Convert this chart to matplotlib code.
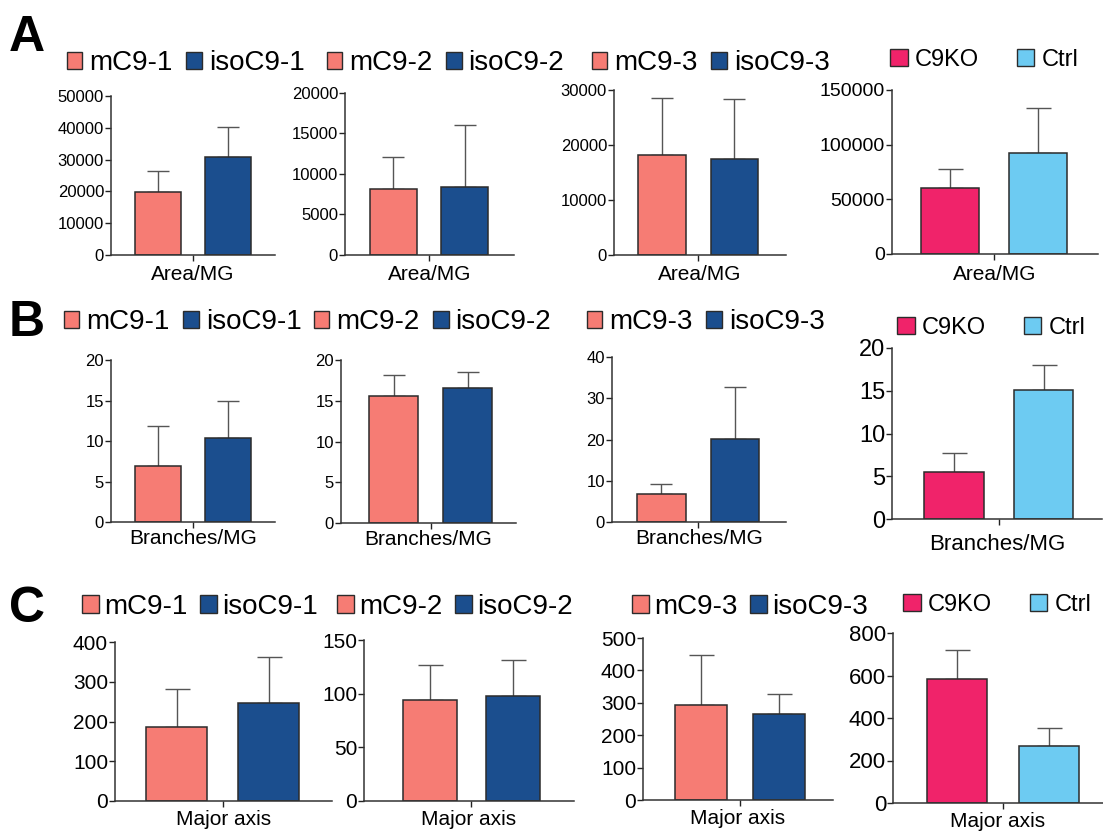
import matplotlib
matplotlib.use('Agg')
import matplotlib.pyplot as plt
from matplotlib.patches import Patch

plt.rcParams['font.family'] = ['Liberation Sans', 'DejaVu Sans']

# --- data (mean, sem) ---
pair_labels = [['mC9-1', 'isoC9-1'], ['mC9-2', 'isoC9-2'],
               ['mC9-3', 'isoC9-3'], ['C9KO', 'Ctrl']]

area_mean = [[19700, 30900], [8200, 8400], [18200, 17400], [60100, 92700]]
area_sem = [[6700, 9400], [3900, 7600], [10400, 10900], [17300, 41100]]

branch_mean = [[6.9, 10.4], [15.6, 16.6], [6.9, 20.1], [5.5, 15.1]]
branch_sem = [[4.9, 4.6], [2.5, 1.9], [2.4, 12.6], [2.2, 2.95]]

major_mean = [[186, 247], [94, 98], [294, 266], [583, 267]]
major_sem = [[96, 115], [33, 33], [154, 60], [139, 86]]

xlabels = ['Area/MG', 'Branches/MG', 'Major axis']
ymax = [[50000, 20000, 30000, 150000], [20, 20, 40, 20], [400, 150, 500, 800]]
ystep = [[10000, 5000, 10000, 50000], [5, 5, 10, 5], [100, 50, 100, 200]]

# --- layout (pixels in the 1103x831 picture) ---
W, H = 1103, 831
# x0, x1, ytop, ybot
boxes = [
    [(111, 275, 96, 255), (345, 514, 93, 255), (614, 786, 90, 255), (892, 1098, 90, 254)],
    [(111, 275, 360, 522), (341, 516, 360, 523), (612, 786, 357, 522), (892, 1102, 348, 519)],
    [(115, 332, 642, 801), (364, 574, 640, 801), (643, 833, 638, 800), (893, 1103, 633, 803)],
]
xlims = [
    [(-0.67, 1.67), (-0.68, 1.69), (-0.66, 1.71), (-0.66, 1.68)],
    [(-0.67, 1.67), (-0.71, 1.65), (-0.67, 1.69), (-0.69, 1.65)],
    [(-0.67, 1.69), (-0.80, 1.74), (-0.73, 1.68), (-0.70, 1.59)],
]
tick_fs = [[12, 12, 12, 14], [12, 12, 12, 17], [15, 15, 15, 16]]
# baseline of the x label, pixels below the axis line
xlab_off = [[25, 25, 25, 26], [22, 22, 22, 31], [24, 24, 24, 24]]
xlab_fs = [[15, 15, 15, 15], [15, 15, 15, 16], [15, 15, 15, 15]]
legend_pos = [
    [(67, 63), (327, 63), (592, 63), (890, 60)],
    [(64, 322), (314, 322), (587, 322), (897, 328)],
    [(82, 607), (337, 607), (632, 607), (903, 605)],
]
legend_fs = [20, 20, 20]
label_pos = [('A', 38), ('B', 323), ('C', 609)]

pair_colors = ['#F67C74', '#1B4E8E']
ko_colors = ['#F0236A', '#6DCBF2']
edge = '#2b2b2b'

means = [area_mean, branch_mean, major_mean]
sems = [area_sem, branch_sem, major_sem]

fig = plt.figure(figsize=(W / 100, H / 100), dpi=100)

for r in range(3):
    for c in range(4):
        x0, x1, yt, yb = boxes[r][c]
        ax = fig.add_axes([x0 / W, 1 - yb / H, (x1 - x0) / W, (yb - yt) / H])
        cols = ko_colors if c == 3 else pair_colors
        m = means[r][c]
        s = sems[r][c]
        ax.bar([0, 1], m, width=0.66, color=cols, edgecolor=edge,
               linewidth=1.1, zorder=2)
        ax.errorbar([0, 1], m, yerr=[[0, 0], s], fmt='none', ecolor='#555555',
                    elinewidth=1.0, capsize=9 if (r == 2 or c == 3) else 8,
                    capthick=1.0, zorder=1)
        ax.set_xlim(*xlims[r][c])
        ax.set_ylim(0, ymax[r][c])
        ax.set_yticks(range(0, ymax[r][c] + 1, ystep[r][c]))
        ax.set_xticks([0.5])
        ax.set_xticklabels([''])
        ax.annotate(xlabels[r], xy=(0.5, 0), xycoords='axes fraction',
                    xytext=(0, -xlab_off[r][c] * 0.72), textcoords='offset points',
                    ha='center', va='baseline', fontsize=xlab_fs[r][c])
        ax.tick_params(axis='y', labelsize=tick_fs[r][c], length=4, width=1,
                       pad=1, colors='#222222', labelcolor='black')
        ax.tick_params(axis='x', length=4, width=1, colors='#222222')
        for sp in ['top', 'right']:
            ax.spines[sp].set_visible(False)
        for sp in ['left', 'bottom']:
            ax.spines[sp].set_color('#333333')
            ax.spines[sp].set_linewidth(1.1)
        ax.patch.set_alpha(0)

        handles = [Patch(facecolor=cols[i], edgecolor=edge, linewidth=1.0) for i in range(2)]
        lx, ly = legend_pos[r][c]
        if c == 3:
            ax.legend(handles, pair_labels[c], ncol=2, loc='center left',
                      bbox_to_anchor=(lx / W, 1 - ly / H), bbox_transform=fig.transFigure,
                      frameon=False, fontsize=17, handlelength=0.75, handleheight=0.75,
                      handletextpad=0.3, columnspacing=1.6, borderpad=0, borderaxespad=0)
        else:
            hl = 0.62 if r == 2 else 0.55
            tp = 0.18 if r == 2 else 0.25
            cs = 0.45 if r == 2 else 0.5
            ax.legend(handles, pair_labels[c], ncol=2, loc='center left',
                      bbox_to_anchor=(lx / W, 1 - ly / H), bbox_transform=fig.transFigure,
                      frameon=False, fontsize=legend_fs[r], handlelength=hl, handleheight=hl,
                      handletextpad=tp, columnspacing=cs, borderpad=0, borderaxespad=0)

for lab, y in label_pos:
    fig.text(9 / W, 1 - y / H, lab, fontsize=36, fontweight='bold', va='center', ha='left')

fig.savefig('out.png', dpi=100)
